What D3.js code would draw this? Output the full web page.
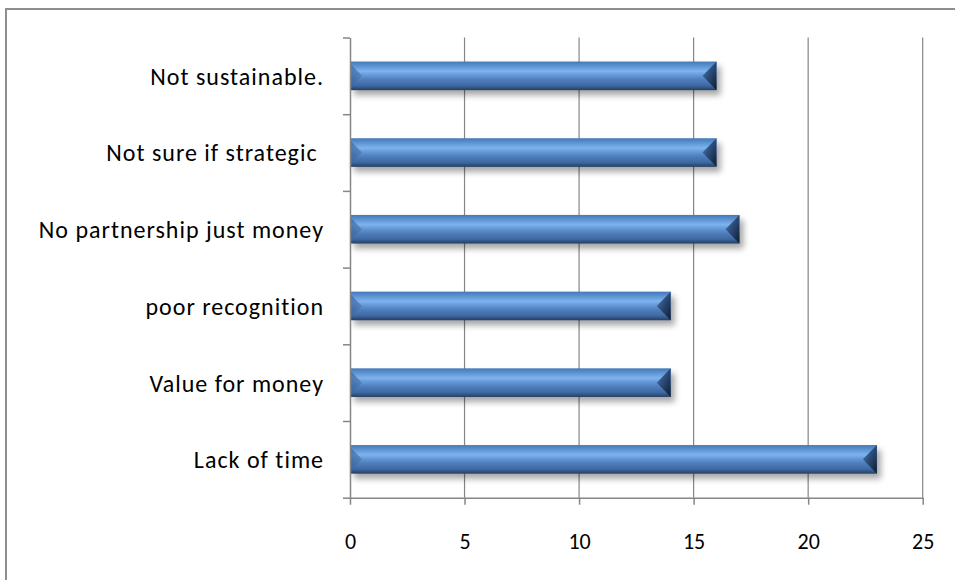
<!DOCTYPE html>
<html>
<head>
<meta charset="utf-8">
<script src="https://cdn.jsdelivr.net/npm/d3@7"></script>
<style>
  html, body { margin: 0; padding: 0; background: #fff; }
  svg { display: block; }
  text { font-family: Carlito, Calibri, Lato, "Noto Sans", sans-serif; fill: #000; font-variant-ligatures: none; white-space: pre; }
</style>
</head>
<body>
<svg id="chart" width="955" height="580"></svg>
<script>
const categories = ["Not sustainable.", "Not sure if strategic ", "No partnership just money", "poor recognition", "Value for money", "Lack of time"];
const values = [16, 16, 17, 14, 14, 23];
const xTicks = [0, 5, 10, 15, 20, 25];

const W = 955, H = 580;
const plot = { left: 350, right: 922.7, top: 37.5, bottom: 497.7 };

const svg = d3.select("#chart");
const defs = svg.append("defs");

// gradients
const vg = defs.append("linearGradient").attr("id", "barGrad")
  .attr("x1", 0).attr("y1", 0).attr("x2", 0).attr("y2", 1);
[["0%", "#4479b8"], ["14%", "#5a90cf"], ["34%", "#7db3ee"], ["46%", "#689cd9"],
 ["62%", "#4f80bf"], ["84%", "#3f69a1"], ["100%", "#243e62"]]
  .forEach(([o, c]) => vg.append("stop").attr("offset", o).attr("stop-color", c));

const rg = defs.append("linearGradient").attr("id", "capRight")
  .attr("x1", 0).attr("y1", 0).attr("x2", 1).attr("y2", 1);
[["0%", "#4f82c2"], ["45%", "#2c4d7a"], ["100%", "#0e1c30"]]
  .forEach(([o, c]) => rg.append("stop").attr("offset", o).attr("stop-color", c));

const lg = defs.append("linearGradient").attr("id", "capLeft")
  .attr("x1", 0).attr("y1", 0).attr("x2", 1).attr("y2", 0);
[["0%", "#3c659b"], ["100%", "#4a78b2"]]
  .forEach(([o, c]) => lg.append("stop").attr("offset", o).attr("stop-color", c));

const f = defs.append("filter").attr("id", "shadow")
  .attr("x", "-10%").attr("y", "-50%").attr("width", "120%").attr("height", "200%");
f.append("feGaussianBlur").attr("stdDeviation", 3);

// outer border
svg.append("rect").attr("x", 6).attr("y", 9).attr("width", W + 20).attr("height", H + 20)
  .attr("fill", "none").attr("stroke", "#8e8e8e").attr("stroke-width", 2);

// scales
const x = d3.scaleLinear().domain([0, 25]).range([plot.left, plot.right]);
const y = d3.scaleBand().domain(categories).range([plot.top, plot.bottom])
  .paddingInner(0.627).paddingOuter(0.3135);
const yIdx = d3.scaleLinear().domain([0, categories.length]).range([plot.top, plot.bottom]);

// gridlines
svg.append("g").selectAll("line").data(xTicks.filter(t => t > 0)).join("line")
  .attr("x1", d => x(d)).attr("x2", d => x(d))
  .attr("y1", plot.top).attr("y2", plot.bottom)
  .attr("stroke", "#868686").attr("stroke-width", 1.2);

// bars
const bars = svg.append("g").selectAll("g").data(categories.map((c, i) => ({ c, v: values[i] }))).join("g");
bars.append("rect")
  .attr("x", x(0) + 4).attr("y", d => y(d.c) + 5)
  .attr("width", d => x(d.v) - x(0)).attr("height", y.bandwidth())
  .attr("fill", "#000").attr("opacity", 0.35).attr("filter", "url(#shadow)");
bars.append("rect")
  .attr("x", x(0) + 1).attr("y", d => y(d.c))
  .attr("width", d => x(d.v) - x(0) - 1).attr("height", y.bandwidth())
  .attr("fill", "url(#barGrad)");
bars.append("polygon")
  .attr("points", d => {
    const x0 = x(0) + 1, y0 = y(d.c), y1 = y0 + y.bandwidth(), ym = (y0 + y1) / 2;
    return [[x0, y0 + 3], [x0 + 11, ym], [x0, y1 - 3]].map(p => p.join(",")).join(" ");
  })
  .attr("fill", "url(#capLeft)").attr("opacity", 0.7);
bars.append("polygon")
  .attr("points", d => {
    const x1 = x(d.v), y0 = y(d.c), y1 = y0 + y.bandwidth(), ym = (y0 + y1) / 2;
    return [[x1, y0], [x1 - 14, ym], [x1, y1]].map(p => p.join(",")).join(" ");
  })
  .attr("fill", "url(#capRight)");

// axes
const xAxis = svg.append("g").attr("transform", `translate(0,${plot.bottom})`)
  .call(d3.axisBottom(x).tickValues(xTicks).tickSize(7).tickPadding(28.5).tickSizeOuter(0));
xAxis.selectAll("text").attr("font-size", 22);

svg.append("g").attr("transform", `translate(${plot.left},0)`)
  .call(d3.axisLeft(yIdx).tickValues(d3.range(categories.length + 1)).tickSize(7).tickFormat("").tickSizeOuter(0));

const yLabels = svg.append("g").attr("transform", `translate(${plot.left},0)`)
  .call(d3.axisLeft(y).tickSize(0).tickPadding(26));
yLabels.select(".domain").remove();
yLabels.selectAll("text").attr("font-size", 24).attr("letter-spacing", "1px").attr("dy", "0.37em")
  .attr("xml:space", "preserve").style("white-space", "pre");

svg.selectAll(".domain, .tick line").attr("stroke", "#868686").attr("stroke-width", 1.5);
svg.selectAll(".tick text").attr("font-family", "Carlito, Calibri, Lato, 'Noto Sans', sans-serif").attr("fill", "#000");
</script>
</body>
</html>
